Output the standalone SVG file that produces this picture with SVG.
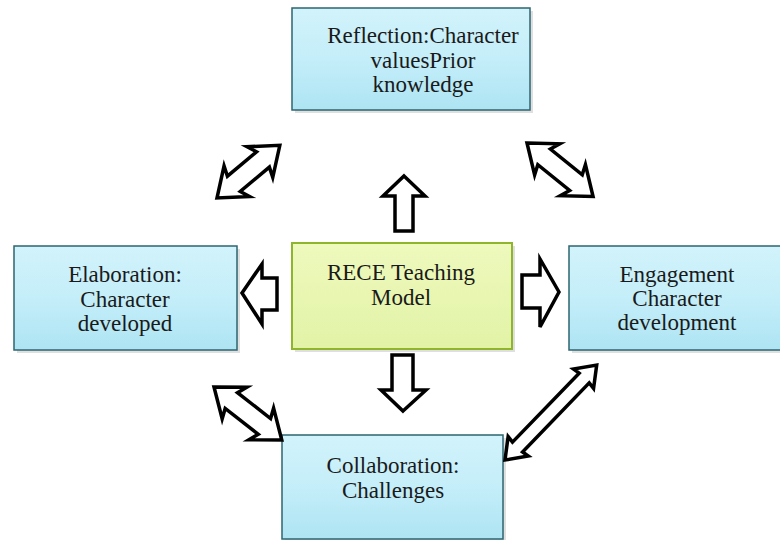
<svg xmlns="http://www.w3.org/2000/svg" width="780" height="540" viewBox="0 0 780 540">
<defs>
<linearGradient id="blue" x1="0" y1="0" x2="0" y2="1">
<stop offset="0" stop-color="#d2f3fb"/>
<stop offset="0.5" stop-color="#c4eef9"/>
<stop offset="1" stop-color="#aee4f3"/>
</linearGradient>
<linearGradient id="green" x1="0" y1="0" x2="0" y2="1">
<stop offset="0" stop-color="#eef9bd"/>
<stop offset="1" stop-color="#e2f3a6"/>
</linearGradient>
<style>
.shadow{fill:#c9c9c9;opacity:0.6}
.bbox{fill:url(#blue);stroke:#2e6570;stroke-width:1.5}
.gbox{fill:url(#green);stroke:#8fb52c;stroke-width:2}
.t{font-family:"Liberation Serif","Times New Roman",serif;font-size:23px;fill:#1a1a1a;text-anchor:middle}
.arr{fill:#ffffff;stroke:#000000;stroke-width:3.5;stroke-linejoin:miter}
</style>
</defs>
<rect width="780" height="540" fill="#ffffff"/>

<g id="node-reflection">
<rect class="shadow" x="295" y="11" width="238" height="102"/>
<rect class="bbox" x="292" y="8" width="238" height="102"/>
<text class="t" x="423" y="43">Reflection:Character</text>
<text class="t" x="423" y="68">valuesPrior</text>
<text class="t" x="423" y="92">knowledge</text>
</g>

<g id="node-rece">
<rect class="shadow" x="295" y="246" width="220" height="106"/>
<rect class="gbox" x="292" y="243" width="220" height="106"/>
<text class="t" x="401" y="280">RECE Teaching</text>
<text class="t" x="401" y="305">Model</text>
</g>

<g id="node-elaboration">
<rect class="shadow" x="17" y="249" width="223" height="104"/>
<rect class="bbox" x="14" y="246" width="223" height="104"/>
<text class="t" x="125" y="282">Elaboration:</text>
<text class="t" x="125" y="307">Character</text>
<text class="t" x="125" y="331">developed</text>
</g>

<g id="node-engagement">
<rect class="shadow" x="572" y="249" width="215" height="104"/>
<rect class="bbox" x="569" y="246" width="215" height="104"/>
<text class="t" x="677" y="282">Engagement</text>
<text class="t" x="677" y="306">Character</text>
<text class="t" x="677" y="330">development</text>
</g>

<g id="node-collaboration">
<rect class="shadow" x="285" y="438" width="221" height="104"/>
<rect class="bbox" x="282" y="435" width="221" height="104"/>
<text class="t" x="393" y="473">Collaboration:</text>
<text class="t" x="393" y="498">Challenges</text>
</g>

<g id="connectors">
<polygon class="arr" points="404,176 425,196 413,196 413,231 395,231 395,196 383,196"/>
<polygon class="arr" points="242,293 262,264 262,278 277,278 277,310 262,310 262,324"/>
<polygon class="arr" points="559,292 540,259 540,275 522,275 522,308 540,308 540,327"/>
<polygon class="arr" points="403,411 426,390 413,390 413,355 392,355 392,390 381,390"/>
<g transform="translate(217,198) rotate(-40)">
<polygon class="arr" points="0,0 26,-20 22,-10 60,-10 56,-20 82,0 56,20 60,10 22,10 26,20"/>
</g>
<g transform="translate(527,143) rotate(39)">
<polygon class="arr" points="0,0 26,-20 22,-10 63,-10 59,-20 85,0 59,20 63,10 22,10 26,20"/>
</g>
<g transform="translate(214,387) rotate(38)">
<polygon class="arr" points="0,0 26,-20 22,-10 64,-10 60,-20 86,0 60,20 64,10 22,10 26,20"/>
</g>
<g transform="translate(505,460) rotate(-46)">
<polygon class="arr" points="0,0 19,-14 18,-7 114,-7 113,-14 132,0 113,14 114,7 18,7 19,14"/>
</g>
</g>
</svg>
